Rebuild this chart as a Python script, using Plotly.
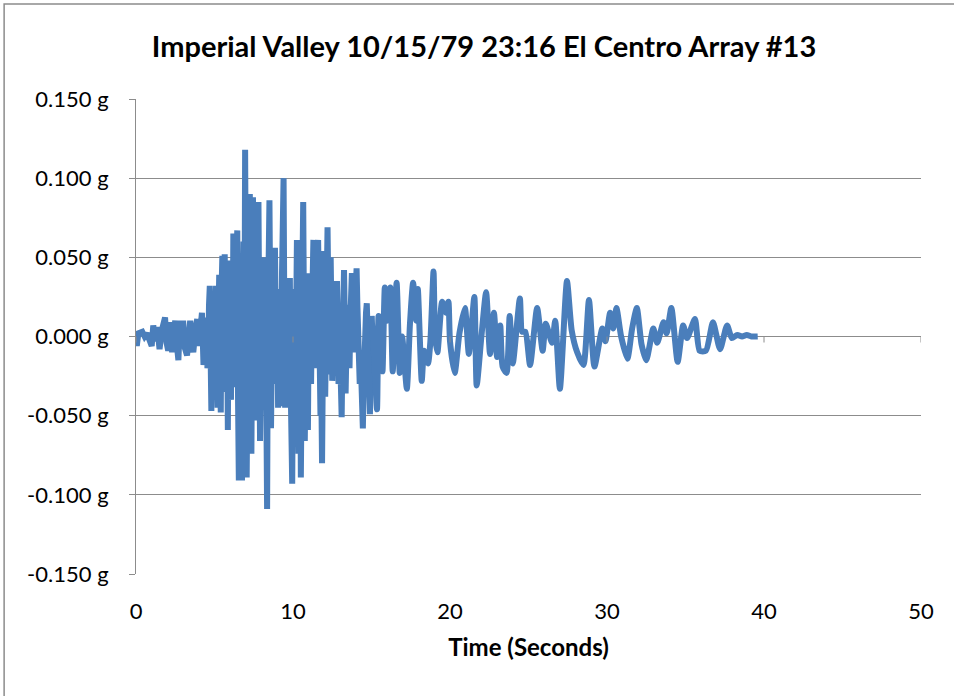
import plotly.graph_objects as go

# Ground acceleration (time in s, acceleration in g)
# onset: small motion before the S-waves arrive
onset_t = [
    0.0, 0.05, 0.15, 0.4, 0.55, 0.7, 0.85, 1.0, 1.1, 1.2, 1.35, 1.5, 1.65, 1.85, 1.95,
    2.05, 2.15, 2.3, 2.4, 2.5, 2.6, 2.7, 2.8, 2.9, 3.0, 3.1, 3.25, 3.35, 3.45, 3.55,
    3.65, 3.8, 3.9, 4.0, 4.1, 4.2, 4.3, 4.4, 4.5,
]
onset_g = [
    0.0, -0.006, 0.002, 0.003, 0.0, 0.002, -0.002, -0.006, 0.007, -0.003, 0.006, -0.008, 0.004, 0.012, -0.004,
    -0.009, 0.009, -0.010, 0.003, 0.010, -0.005, -0.015, 0.010, -0.004, 0.010, -0.007, -0.012, 0.004, 0.010, -0.003,
    -0.010, 0.006, 0.011, -0.006, 0.008, 0.015, -0.018, 0.006, 0.012,
]

# strong shaking
strong_t = [
    4.55, 4.6, 4.65, 4.7, 4.75, 4.8, 4.85, 4.9, 4.95, 5.0, 5.05, 5.1, 5.15, 5.2, 5.25,
    5.3, 5.35, 5.4, 5.45, 5.5, 5.55, 5.6, 5.65, 5.7, 5.75, 5.8, 5.85, 5.9, 5.95, 6.0,
    6.05, 6.1, 6.15, 6.2, 6.25, 6.3, 6.35, 6.4, 6.45, 6.5, 6.55, 6.6, 6.65, 6.7, 6.75,
    6.8, 6.85, 6.9, 6.95, 7.0, 7.05, 7.1, 7.15, 7.2, 7.25, 7.3, 7.35, 7.4, 7.45, 7.5,
    7.55, 7.6, 7.65, 7.7, 7.75, 7.8, 7.85, 7.9, 7.95, 8.0, 8.05, 8.1, 8.15, 8.2, 8.25,
    8.3, 8.35, 8.4, 8.45, 8.5, 8.55, 8.6, 8.65, 8.7, 8.75, 8.8, 8.85, 8.9, 8.95, 9.0,
    9.05, 9.1, 9.15, 9.2, 9.25, 9.3, 9.35, 9.4, 9.45, 9.5, 9.55, 9.6, 9.65, 9.7, 9.75,
    9.8, 9.85, 9.9, 9.95, 10.0, 10.05, 10.1, 10.15, 10.2, 10.25, 10.3, 10.35, 10.4, 10.45, 10.5,
    10.55, 10.6, 10.65, 10.7, 10.75, 10.8, 10.85, 10.9, 10.95, 11.0, 11.05, 11.1, 11.15, 11.2, 11.25,
    11.3, 11.35, 11.4, 11.45, 11.5, 11.55, 11.6, 11.65, 11.7, 11.75, 11.8, 11.85, 11.9, 11.95, 12.0,
    12.05, 12.1, 12.15, 12.2, 12.25, 12.3, 12.35, 12.4, 12.45, 12.5, 12.55, 12.6, 12.65, 12.7, 12.75,
    12.8, 12.85, 12.9, 13.0, 13.05, 13.1, 13.15, 13.2, 13.25, 13.3, 13.35, 13.4, 13.45, 13.5, 13.55,
    13.6, 13.65, 13.7, 13.75, 13.8, 13.85, 13.9, 13.95, 14.0, 14.05, 14.1, 14.15, 14.2, 14.25, 14.3,
    14.35, 14.4, 14.45, 14.5, 14.55, 14.6, 14.65, 14.7, 14.75, 14.8, 14.85, 14.9, 14.95, 15.0,
]
strong_g = [
    -0.020, -0.013, 0.020, 0.032, -0.010, -0.047, 0.010, 0.027, -0.015, -0.030, 0.020, 0.032, -0.020, -0.045, 0.010,
    0.039, -0.025, -0.048, 0.030, 0.051, -0.030, -0.020, 0.052, 0.010, -0.035, 0.020, -0.059, 0.025, 0.048, -0.030,
    -0.040, 0.030, -0.020, 0.065, 0.010, -0.032, 0.030, 0.045, 0.067, -0.040, -0.091, 0.040, 0.030, -0.050, -0.091,
    0.020, 0.060, -0.030, 0.118, 0.020, -0.089, -0.030, 0.040, -0.040, 0.090, 0.020, -0.074, 0.010, 0.088, 0.030,
    -0.053, -0.020, 0.030, -0.040, 0.050, 0.085, 0.010, -0.066, -0.020, 0.020, -0.030, 0.050, 0.010, -0.040, 0.030,
    -0.050, -0.109, 0.010, 0.040, 0.086, 0.020, -0.058, -0.010, 0.030, -0.030, 0.040, 0.056, 0.010, -0.020, 0.020,
    -0.045, 0.010, 0.030, -0.010, -0.044, 0.040, 0.070, 0.100, 0.010, -0.045, -0.010, 0.020, -0.010, -0.030, 0.010,
    0.037, -0.030, -0.060, -0.093, -0.010, 0.030, 0.010, -0.040, 0.020, 0.061, 0.010, -0.074, -0.020, 0.040, -0.089,
    -0.030, 0.040, 0.085, 0.010, -0.066, -0.020, 0.023, -0.030, -0.059, 0.010, 0.040, 0.000, -0.030, 0.010, 0.040,
    0.061, 0.020, -0.020, 0.010, 0.045, 0.030, 0.061, 0.010, -0.026, -0.050, -0.030, -0.080, -0.020, 0.054, 0.010,
    -0.038, 0.010, 0.040, 0.069, 0.030, -0.024, 0.010, 0.050, 0.020, -0.028, -0.010, 0.020, 0.000, -0.015, 0.010,
    0.035, 0.010, -0.030, -0.010, -0.040, -0.051, -0.010, 0.020, 0.042, 0.010, -0.036, -0.010, 0.010, 0.020, 0.000,
    -0.020, 0.010, 0.030, 0.040, 0.010, -0.010, 0.010, 0.030, 0.040, 0.043, 0.020, 0.000, -0.015, -0.030, -0.010,
    -0.020, -0.045, -0.058, -0.030, 0.000, 0.010, 0.015, 0.021, 0.000, -0.020, -0.030, -0.049, -0.020, 0.013,
]

# coda: decaying surface-wave motion
coda_t = [
    15.15, 15.35, 15.45, 15.6, 15.7, 15.85, 16.0, 16.2, 16.35, 16.6, 16.8, 16.95, 17.25, 17.45,
    17.65, 17.85, 17.95, 18.2, 18.35, 18.6, 18.75, 18.95, 19.05, 19.2, 19.5, 19.75, 19.9, 20.0, 20.3,
    20.6, 20.95, 21.2, 21.55, 21.7, 22.0, 22.3, 22.55, 22.8, 23.0, 23.2, 23.35, 23.6, 23.8, 24.0,
    24.45, 24.6, 24.8, 25.1, 25.55, 25.9, 26.1, 26.5, 26.7, 27.0, 27.45, 27.75, 28.1, 28.5, 28.85,
    29.2, 29.7, 29.9, 30.2, 30.4, 30.6, 30.9, 31.3, 31.6, 31.9, 32.2, 32.5, 32.95, 33.2, 33.6,
    33.8, 34.1, 34.5, 34.85, 35.1, 35.6, 35.9, 36.3, 36.75, 37.2, 37.65, 37.95, 38.3, 38.6, 38.9,
    39.2, 39.6,
]
coda_g = [
    -0.010, -0.046, 0.013, -0.005, -0.022, 0.031, 0.010, 0.031, -0.022, 0.034, -0.023, 0.0, -0.033, 0.008,
    0.034, 0.010, 0.030, -0.028, -0.009, -0.017, -0.003, 0.041, 0.0, -0.010, 0.022, 0.015, 0.022, -0.003, -0.023,
    0.002, 0.018, -0.011, 0.025, -0.031, 0.0, 0.028, -0.011, 0.015, -0.013, 0.007, -0.019, -0.023, 0.013, -0.017,
    0.024, 0.003, 0.003, -0.018, 0.018, -0.009, 0.008, -0.004, 0.010, -0.033, 0.035, 0.004, -0.010, -0.018, 0.023,
    -0.019, 0.005, -0.003, 0.015, 0.005, 0.018, 0.0, -0.014, 0.005, 0.018, -0.005, -0.015, 0.005, -0.004, 0.009,
    0.002, 0.018, -0.016, 0.007, -0.001, 0.011, -0.009, -0.009, 0.009, -0.008, 0.007, -0.001, 0.001, 0.0, 0.001,
    0.0, 0.0,
]

x_ticks = [0, 10, 20, 30, 40, 50]
y_ticks = [-0.15, -0.10, -0.05, 0.0, 0.05, 0.10, 0.15]
y_labels = ["-0.150 g", "-0.100 g", "-0.050 g", "0.000 g", "0.050 g", "0.100 g", "0.150 g"]

grid_col = "#8c8c8c"
line_col = "#4a7ebb"
font_name = "Lato"

fig = go.Figure()
fig.add_trace(go.Scatter(
    x=onset_t + strong_t, y=onset_g + strong_g, mode="lines",
    line=dict(color=line_col, width=6), showlegend=False))
fig.add_trace(go.Scatter(
    x=strong_t[-1:] + coda_t, y=strong_g[-1:] + coda_g, mode="lines",
    line=dict(color=line_col, width=6, shape="spline", smoothing=0.6), showlegend=False))

# small tick marks hanging under the zero line, as in the spreadsheet chart
for t in x_ticks:
    fig.add_shape(type="line", xref="x", yref="y", ysizemode="pixel", yanchor=0,
                  x0=t, x1=t, y0=0, y1=-6, line=dict(color=grid_col, width=1))

# outer chart border (left and top edges are inside the window)
fig.add_shape(type="rect", xref="paper", yref="paper",
              x0=-0.168, x1=1.2, y0=-0.4, y1=1.2,
              line=dict(color=grid_col, width=1.5), layer="below")

fig.update_layout(
    width=954, height=696,
    margin=dict(l=136, r=33, t=99, b=122),
    paper_bgcolor="white", plot_bgcolor="white",
    font=dict(family=font_name, color="black", size=22),
    title=dict(text="<b>Imperial Valley 10/15/79 23:16 El Centro Array #13</b>",
               x=484 / 954, xref="container", xanchor="center",
               y=1 - 47 / 696, yref="container", yanchor="middle",
               font=dict(size=29, family=font_name)),
)

fig.update_xaxes(range=[0, 50], tickvals=x_ticks, showgrid=False, zeroline=False,
                 showline=False, ticks="", ticklabelstandoff=22,
                 title=dict(text="<b>Time (Seconds)</b>", standoff=16,
                            font=dict(size=24, family=font_name)))
fig.update_yaxes(range=[-0.15, 0.15], tickvals=y_ticks, ticktext=y_labels,
                 showgrid=True, gridcolor=grid_col, gridwidth=1,
                 zeroline=True, zerolinecolor=grid_col, zerolinewidth=1,
                 showline=True, linecolor=grid_col, linewidth=1,
                 ticks="outside", ticklen=6, tickcolor=grid_col, ticklabelstandoff=16)

# drop the default page margin so the figure sits at the window's corner
fig.write_html("out.html", config={"displayModeBar": False},
               post_script="document.body.style.margin = '0';")
